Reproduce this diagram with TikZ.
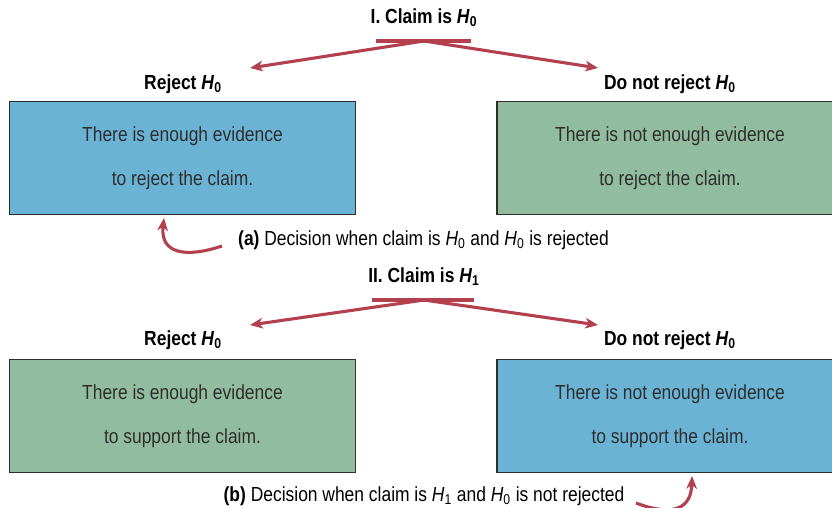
\documentclass[tikz,border=0pt]{standalone}
\usepackage{fontspec}
\setmainfont[FakeStretch=0.855]{Liberation Sans}
\usetikzlibrary{arrows.meta}

\newcommand{\Hnull}{\textit{H}\textsubscript{0}}
\newcommand{\Hone}{\textit{H}\textsubscript{1}}

\begin{document}
\begin{tikzpicture}[x=0.025cm, y=-0.025cm]

% Colours
\definecolor{boxBlue}{HTML}{6AB3D5}
\definecolor{boxGreen}{HTML}{92BC9F}
\definecolor{arrRed}{HTML}{B3404F}
\definecolor{txtGray}{HTML}{2E2E2E}

\tikzset{
  head/.style={font=\fontsize{14.5}{16}\selectfont\bfseries},
  caption/.style={font=\fontsize{14.5}{16}\selectfont},
  box/.style={draw=txtGray, line width=0.8pt, minimum width=8.65cm,
    minimum height=2.825cm, inner sep=0pt, align=center, text=txtGray,
    font=\fontsize{14.5}{31.3}\selectfont},
  bar/.style={draw=arrRed, line width=2.4pt},
  split/.style={draw=arrRed, line width=2.2pt,
    -{Stealth[length=9pt, width=7.5pt, inset=2.5pt]}},
  hook/.style={draw=arrRed, line width=2.2pt,
    -{Stealth[length=9pt, width=7.5pt, inset=2.5pt]}}
}

% Frame
\clip (0,0) rectangle (832,507);

% Part I
\node[head] (claimI) at (424,18) {I. Claim is \Hnull};
\coordinate (barIL) at (376,41);
\coordinate (barIR) at (471,41);
\coordinate (barI) at (424,41);
\draw[bar] (barIL) -- (barIR);
\coordinate (tipIL) at (250,68);
\coordinate (tipIR) at (598,68);
\draw[split] (barI) -- (tipIL);
\draw[split] (barI) -- (tipIR);

\node[head] (rejI) at (183,84) {Reject \Hnull};
\node[head] (norejI) at (670,84) {Do not reject \Hnull};

\node[box, fill=boxBlue] (boxIL) at (182.5,158)
  {There is enough evidence\\to reject the claim.};
\node[box, fill=boxGreen] (boxIR) at (670,158)
  {There is not enough evidence\\to reject the claim.};

\node[caption] (capA) at (423.5,240)
  {\textbf{(a)} Decision when claim is \Hnull{} and \Hnull{} is rejected};
\coordinate (capAfrom) at (222,246);
\coordinate (capAto) at (164,218);
\draw[hook] (capAfrom) .. controls (186,258) and (160,254) .. (capAto);

% Part II
\node[head] (claimII) at (424,277) {II. Claim is \Hone};
\coordinate (barIIL) at (372,300);
\coordinate (barIIR) at (474,300);
\coordinate (barII) at (424,300);
\draw[bar] (barIIL) -- (barIIR);
\coordinate (tipIIL) at (250,325);
\coordinate (tipIIR) at (598,325);
\draw[split] (barII) -- (tipIIL);
\draw[split] (barII) -- (tipIIR);

\node[head] (rejII) at (183,340) {Reject \Hnull};
\node[head] (norejII) at (670,340) {Do not reject \Hnull};

\node[box, fill=boxGreen] (boxIIL) at (182.5,416)
  {There is enough evidence\\to support the claim.};
\node[box, fill=boxBlue] (boxIIR) at (670,416)
  {There is not enough evidence\\to support the claim.};

\node[caption] (capB) at (424,496)
  {\textbf{(b)} Decision when claim is \Hone{} and \Hnull{} is not rejected};
\coordinate (capBfrom) at (636,503);
\coordinate (capBto) at (692,476);
\draw[hook] (capBfrom) .. controls (665,514) and (691,514) .. (capBto);

\end{tikzpicture}
\end{document}
